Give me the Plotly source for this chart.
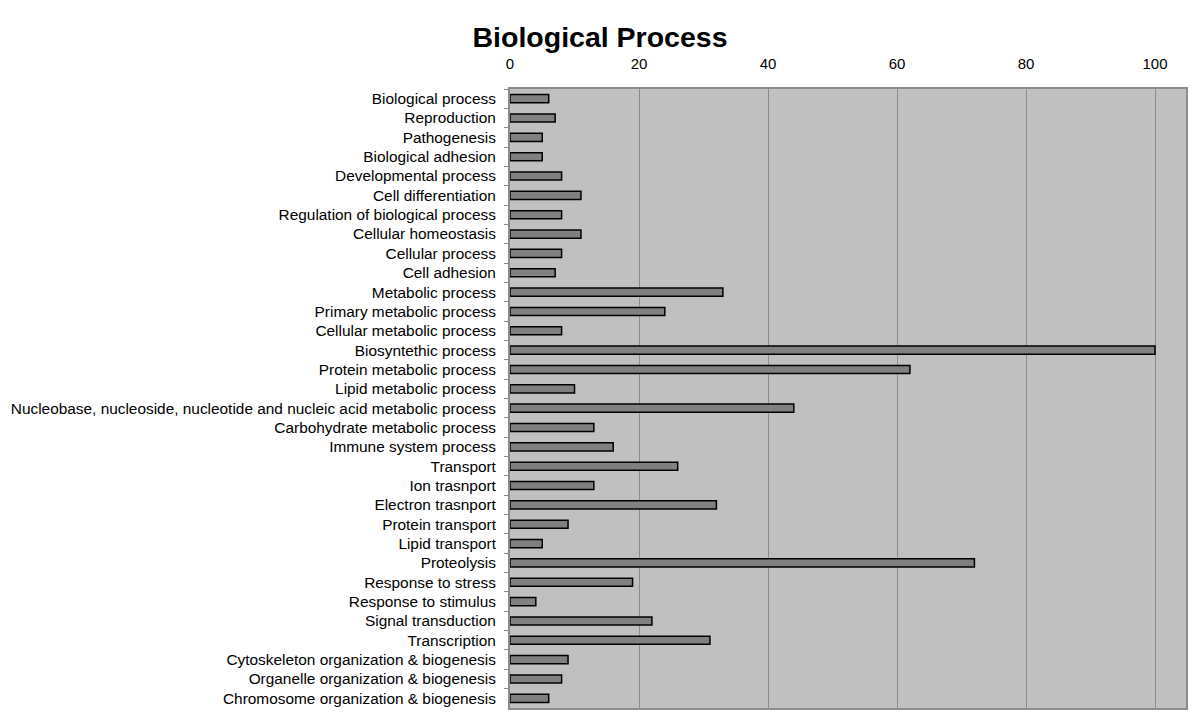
import plotly.graph_objects as go

categories = [
    "Biological process", "Reproduction", "Pathogenesis", "Biological adhesion",
    "Developmental process", "Cell differentiation", "Regulation of biological process",
    "Cellular homeostasis", "Cellular process", "Cell adhesion", "Metabolic process",
    "Primary metabolic process", "Cellular metabolic process", "Biosyntethic process",
    "Protein metabolic process", "Lipid metabolic process",
    "Nucleobase, nucleoside, nucleotide and nucleic acid metabolic process",
    "Carbohydrate metabolic process", "Immune system process", "Transport",
    "Ion trasnport", "Electron trasnport", "Protein transport", "Lipid transport",
    "Proteolysis", "Response to stress", "Response to stimulus", "Signal transduction",
    "Transcription", "Cytoskeleton organization & biogenesis",
    "Organelle organization & biogenesis", "Chromosome organization & biogenesis",
]
values = [6, 7, 5, 5, 8, 11, 8, 11, 8, 7, 33, 24, 8, 100, 62, 10, 44, 13, 16, 26,
          13, 32, 9, 5, 72, 19, 4, 22, 31, 9, 8, 6]
tick_vals = [0, 20, 40, 60, 80, 100]

fig = go.Figure(go.Bar(
    y=categories, x=values, orientation="h",
    marker=dict(color="#808080", line=dict(color="#000000", width=1.5)),
))

font_family = "Liberation Sans, Arial, sans-serif"
# page body has an 8px margin, so figure coordinates are offset by 8px
fig.update_layout(
    width=1200, height=722,
    margin=dict(l=502, r=22, t=81, b=22, autoexpand=False),
    paper_bgcolor="white", plot_bgcolor="#C0C0C0",
    bargap=0.58, showlegend=False,
    font=dict(family=font_family, size=15.4, color="black"),
    title=dict(text="<b>Biological Process</b>",
               x=592 / 1200, xref="container", xanchor="center",
               y=1 - 29.5 / 722, yref="container", yanchor="middle",
               font=dict(size=28.5, family=font_family, color="black")),
)

fig.update_xaxes(
    side="top", range=[0, 104.8], tickvals=tick_vals,
    showgrid=True, gridcolor="#8C8C8C", gridwidth=1,
    zeroline=False, ticks="", ticklabelstandoff=12, automargin=False,
    showline=True, linecolor="#8C8C8C", linewidth=2, mirror=True,
    tickfont=dict(size=15, family=font_family),
)
fig.update_yaxes(
    autorange="reversed", ticks="outside", tickson="boundaries", ticklen=4,
    tickcolor="#8C8C8C", showgrid=False, automargin=False,
    showline=True, linecolor="#8C8C8C", linewidth=2, mirror=True,
    tickfont=dict(size=15.4, family=font_family), ticklabelstandoff=9,
)

fig.write_html("out.html")
